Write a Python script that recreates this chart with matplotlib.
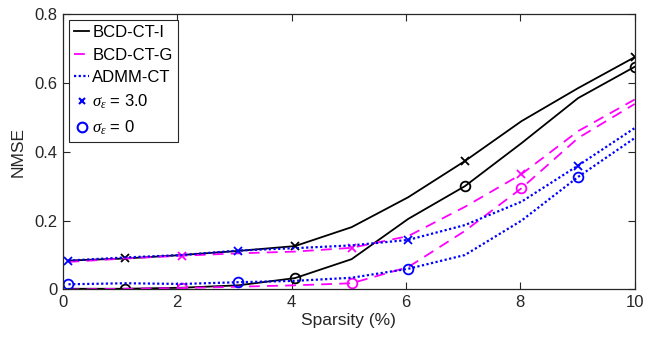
import matplotlib
matplotlib.use("Agg")
import matplotlib.pyplot as plt
from matplotlib.lines import Line2D

plt.rcParams['font.family'] = ['Liberation Sans', 'DejaVu Sans']
plt.rcParams['mathtext.fontset'] = 'custom'
plt.rcParams['mathtext.it'] = 'Liberation Serif:italic'

# sparsity (%) sample points
sparsity = [0.1, 1.09, 2.08, 3.07, 4.06, 5.05, 6.04, 7.03, 8.02, 9.01, 10.0]

# NMSE, sigma_eps = 3.0
bcd_i_noisy = [0.084, 0.090, 0.100, 0.112, 0.126, 0.181, 0.268, 0.373, 0.489, 0.585, 0.675]
bcd_g_noisy = [0.080, 0.090, 0.098, 0.105, 0.110, 0.121, 0.155, 0.240, 0.335, 0.460, 0.552]
admm_noisy = [0.084, 0.093, 0.100, 0.113, 0.120, 0.128, 0.144, 0.187, 0.255, 0.360, 0.469]

# NMSE, sigma_eps = 0
bcd_i_clean = [0.002, 0.002, 0.005, 0.012, 0.033, 0.088, 0.205, 0.300, 0.425, 0.556, 0.647]
bcd_g_clean = [0.000, 0.002, 0.004, 0.008, 0.012, 0.018, 0.065, 0.170, 0.294, 0.440, 0.539]
admm_clean = [0.015, 0.018, 0.016, 0.021, 0.025, 0.034, 0.060, 0.100, 0.200, 0.327, 0.440]

x_ticks = [0, 2, 4, 6, 8, 10]
y_ticks = [0, 0.2, 0.4, 0.6, 0.8]

MAGENTA = '#FF00FF'
BLUE = '#0000FF'
AX = '#262626'
DASH = (6, 4)
DOT = (1, 1.1)

fig = plt.figure(figsize=(6.47, 3.45), dpi=100)
ax = fig.add_axes([0.097, 0.161, 0.884, 0.798])

lw = 1.3
ax.plot(sparsity, bcd_i_noisy, '-', color='k', lw=lw, marker='x', ms=6, mew=1.3,
        markevery=[1, 4, 7, 10])
ax.plot(sparsity, bcd_i_clean, '-', color='k', lw=lw, marker='o', ms=7, mew=1.3,
        mfc='none', markevery=[1, 4, 7, 10])
ax.plot(sparsity, bcd_g_noisy, '--', color=MAGENTA, lw=lw, dashes=DASH, marker='x', ms=6,
        mew=1.3, markevery=[2, 5, 8])
ax.plot(sparsity, bcd_g_clean, '--', color=MAGENTA, lw=lw, dashes=DASH, marker='o', ms=7,
        mew=1.3, mfc='none', markevery=[2, 5, 8])
ax.plot(sparsity, admm_noisy, ':', color=BLUE, lw=1.6, dashes=DOT, marker='x', ms=6, mew=1.3,
        markevery=[0, 3, 6, 9])
ax.plot(sparsity, admm_clean, ':', color=BLUE, lw=1.6, dashes=DOT, marker='o', ms=7, mew=1.3,
        mfc='none', markevery=[0, 3, 6, 9])

ax.set_xlim(0, 10)
ax.set_ylim(0, 0.8)
ax.set_xticks(x_ticks)
ax.set_yticks(y_ticks)
ax.set_xticklabels([str(t) for t in x_ticks])
ax.set_yticklabels(['0', '0.2', '0.4', '0.6', '0.8'])
ax.tick_params(direction='in', top=True, right=True, length=5, width=0.8,
               colors=AX, labelsize=12, pad=4)
for s in ax.spines.values():
    s.set_color(AX)
    s.set_linewidth(0.9)
ax.set_xlabel('Sparsity (%)', fontsize=12.5, color=AX, labelpad=2)
ax.set_ylabel('NMSE', fontsize=12.5, color=AX, labelpad=6)

handles = [
    Line2D([], [], color='k', ls='-', lw=lw),
    Line2D([], [], color=MAGENTA, ls='--', lw=lw, dashes=DASH),
    Line2D([], [], color=BLUE, ls=':', lw=1.6, dashes=DOT),
    Line2D([], [], color=BLUE, ls='none', marker='x', ms=5, mew=1.5),
    Line2D([], [], color=BLUE, ls='none', marker='o', ms=7, mew=1.5, mfc='none'),
]
labels = ['BCD-CT-I', 'BCD-CT-G', 'ADMM-CT',
          r'$\sigma_\epsilon$ = 3.0', r'$\sigma_\epsilon$ = 0']
leg = ax.legend(handles, labels, loc='upper left', bbox_to_anchor=(0.011, 0.978),
                fontsize=12, handlelength=0.9, handletextpad=0.2, borderpad=0.3,
                labelspacing=0.45, borderaxespad=0.0, fancybox=False, framealpha=1)
leg.get_frame().set_edgecolor(AX)
leg.get_frame().set_linewidth(0.8)

fig.savefig('out.png', dpi=100)
